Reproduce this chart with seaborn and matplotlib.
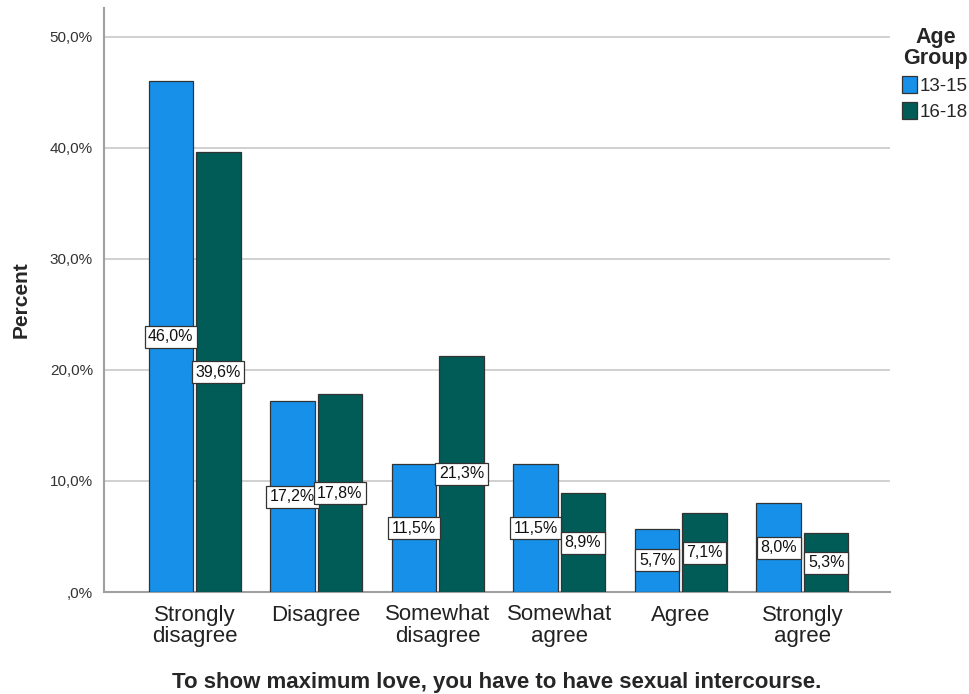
import matplotlib
matplotlib.use("Agg")
import matplotlib.pyplot as plt
import seaborn as sns
import pandas as pd
from matplotlib.ticker import FuncFormatter

categories = ["Strongly\ndisagree", "Disagree", "Somewhat\ndisagree",
              "Somewhat\nagree", "Agree", "Strongly\nagree"]
groups = ["13-15", "16-18"]
pct_13_15 = [46.0, 17.2, 11.5, 11.5, 5.7, 8.0]
pct_16_18 = [39.6, 17.8, 21.3, 8.9, 7.1, 5.3]

df = pd.DataFrame({
    "answer": categories * 2,
    "group": [groups[0]] * len(categories) + [groups[1]] * len(categories),
    "percent": pct_13_15 + pct_16_18,
})

sns.set_style("white")
plt.rcParams["font.family"] = ["Liberation Sans", "DejaVu Sans"]

fig = plt.figure(figsize=(9.7, 6.94), dpi=100)
ax = fig.add_axes([104 / 970, 1 - 592 / 694, (890 - 104) / 970, (592 - 8) / 694])

palette = {"13-15": "#1690E8", "16-18": "#015C57"}
sns.barplot(data=df, x="answer", y="percent", hue="group", order=categories,
            hue_order=groups, palette=palette, width=0.78, gap=0.06,
            edgecolor="#333333", linewidth=0.9, saturation=1, ax=ax, zorder=3)


def pct_fmt(v, _=None):
    s = f"{v:.1f}%".replace(".", ",")
    return s[1:] if s.startswith("0,") else s


ax.set_ylim(0, 52.6)
ax.set_xlim(-0.745, 5.72)
ax.set_yticks([0, 10, 20, 30, 40, 50])
ax.yaxis.set_major_formatter(FuncFormatter(pct_fmt))
ax.grid(axis="y", color="#c8c8c8", linewidth=1.2, zorder=0)
ax.grid(axis="x", visible=False)
ax.tick_params(axis="y", length=0, labelsize=11, pad=8, colors="#333333")
ax.tick_params(axis="x", length=0, labelsize=16, pad=9, colors="#222222")
for lbl in ax.get_xticklabels():
    lbl.set_linespacing(1.05)

for side in ["top", "right"]:
    ax.spines[side].set_visible(False)
for side in ["left", "bottom"]:
    ax.spines[side].set_color("#a0a0a0")
    ax.spines[side].set_linewidth(1.5)

# value labels, boxed, at mid-height of each bar
for container in ax.containers:
    for bar in container:
        h = bar.get_height()
        ax.text(bar.get_x() + bar.get_width() / 2, h / 2, pct_fmt(h),
                ha="center", va="center", fontsize=11.5, color="#111111", zorder=5,
                bbox=dict(boxstyle="square,pad=0.22", facecolor="white",
                          edgecolor="#333333", linewidth=0.9))

ax.set_xlabel("To show maximum love, you have to have sexual intercourse.",
              fontsize=16, fontweight="bold", labelpad=18)
ax.set_ylabel("Percent", fontsize=15, fontweight="bold", labelpad=14)

leg = ax.legend(title="Age\nGroup", loc="upper right",
                bbox_to_anchor=(978 / 970, 1 - 17 / 694), bbox_transform=fig.transFigure,
                frameon=False, fontsize=13.5, title_fontsize=15.5,
                handlelength=0.8, handleheight=1.05, handletextpad=0.15,
                borderaxespad=0.0, borderpad=0.55, labelspacing=0.38,
                alignment="right")
leg.get_title().set_fontweight("bold")
leg.get_title().set_multialignment("center")
leg.get_title().set_linespacing(0.95)
for h in leg.legend_handles:
    h.set_edgecolor("#333333")
    h.set_linewidth(0.9)

fig.savefig("out.png", dpi=100)
